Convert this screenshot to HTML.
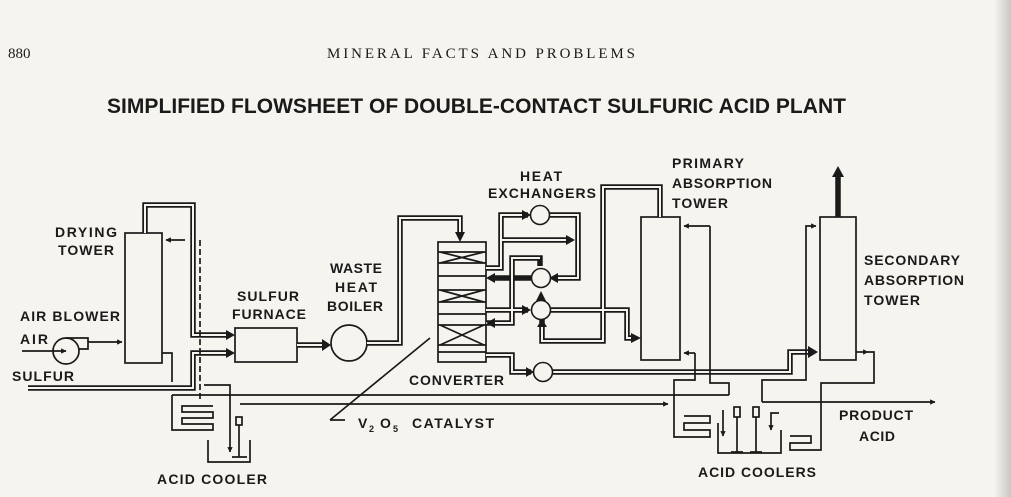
<!DOCTYPE html>
<html><head><meta charset="utf-8"><style>
html,body{margin:0;padding:0;background:#f6f4ef;}
svg{display:block}
text{font-family:"Liberation Sans",sans-serif;font-weight:bold;fill:#1a1a1a}
.s{fill:none;stroke:#1a1a1a;stroke-width:1.7}
.d1{fill:none;stroke:#1a1a1a;stroke-width:5.5}
.d2{fill:none;stroke:#f6f4ef;stroke-width:2}
</style></head><body>
<svg width="1011" height="497" viewBox="0 0 1011 497">
<defs>
<marker id="b" viewBox="0 0 10 10" refX="9" refY="5" markerWidth="3.2" markerHeight="3.2" orient="auto"><path d="M0 0L10 5L0 10z" fill="#1a1a1a"/></marker>
<linearGradient id="g" x1="0" x2="1"><stop offset="0" stop-color="#f6f4ef"/><stop offset="1" stop-color="#c9c7c2"/></linearGradient>
</defs>
<rect x="994" y="0" width="17" height="497" fill="url(#g)"/>
<text x="8" y="58" style="font-family:'Liberation Serif',serif;font-weight:normal;font-size:15px">880</text>
<text x="327" y="58" textLength="308" style="font-family:'Liberation Serif',serif;font-weight:normal;font-size:15px">MINERAL FACTS AND PROBLEMS</text>
<text x="107" y="113" textLength="739" font-size="21">SIMPLIFIED FLOWSHEET OF DOUBLE-CONTACT SULFURIC ACID PLANT</text>

<g font-size="14">
<text x="55" y="237" textLength="62">DRYING</text>
<text x="58" y="255" textLength="56">TOWER</text>
<text x="20" y="321" textLength="100">AIR BLOWER</text>
<text x="20" y="344" textLength="28">AIR</text>
<text x="12" y="381" textLength="62">SULFUR</text>
<text x="237" y="301" textLength="62">SULFUR</text>
<text x="232" y="319" textLength="74">FURNACE</text>
<text x="330" y="273" textLength="52">WASTE</text>
<text x="335" y="292" textLength="42">HEAT</text>
<text x="327" y="311" textLength="56">BOILER</text>
<text x="409" y="385" textLength="95">CONVERTER</text>
<text x="520" y="181" textLength="42">HEAT</text>
<text x="488" y="198" textLength="108">EXCHANGERS</text>
<text x="672" y="168" textLength="72">PRIMARY</text>
<text x="672" y="188" textLength="100">ABSORPTION</text>
<text x="672" y="208" textLength="56">TOWER</text>
<text x="864" y="265" textLength="96">SECONDARY</text>
<text x="864" y="285" textLength="100">ABSORPTION</text>
<text x="864" y="305" textLength="56">TOWER</text>
<text x="839" y="420" textLength="74">PRODUCT</text>
<text x="859" y="441" textLength="36">ACID</text>
<text x="157" y="484" textLength="110">ACID COOLER</text>
<text x="698" y="477" textLength="118">ACID COOLERS</text>
<text x="358" y="428">V</text><text x="369" y="432" font-size="9">2</text>
<text x="380" y="428">O</text><text x="393" y="432" font-size="9">5</text>
<text x="412" y="428" textLength="82">CATALYST</text>
</g>

<rect class="s" x="125" y="233" width="37" height="130"/>
<rect class="s" x="235" y="328" width="62" height="34"/>
<circle class="s" cx="349" cy="343" r="18"/>
<rect class="s" x="438" y="242" width="48" height="120"/>
<g class="s">
<path d="M438 252H486M438 263H486M440 252L484 263M484 252L440 263"/>
<path d="M438 276H486M438 290H486M438 302H486M440 290L484 302M484 290L440 302"/>
<path d="M438 314H486M438 325H486M438 345H486M440 325L484 345M484 325L440 345M438 352H486"/>
</g>
<rect class="s" x="641" y="217" width="39" height="143"/>
<rect class="s" x="820" y="217" width="36" height="143"/>
<circle class="s" cx="66" cy="351" r="13"/>
<path class="s" d="M66 338H88V349H79M22 351H66" marker-end="url(#b)"/>
<path class="s" d="M88 342H122" marker-end="url(#b)"/>

<g class="d1">
<path d="M145 233V205H193V335H228"/>
<path d="M28 388H193V353H228"/>
<path d="M297 345H327"/>
<path d="M367 343H400V218H460V236"/>
<path d="M486 268H501V215H528"/>
<path d="M549 215H578V278H556"/>
<path d="M501 240H570"/>
<path d="M531 278H492"/>
<path d="M486 310H528"/>
<path d="M486 323H512V258H540V266"/>
<path d="M549 310H627V338H634"/>
<path d="M542 319V341H603V187H660V217"/>
<path d="M486 355H512V372H531"/>
<path d="M552 372H790V352H810"/>
<path d="M838 217V175"/>
</g>
<g class="d2">
<path d="M145 233V205H193V335H228"/>
<path d="M28 388H193V353H228"/>
<path d="M297 345H325"/>
<path d="M367 343H400V218H460V234"/>
<path d="M486 268H501V215H526"/>
<path d="M549 215H578V278H558"/>
<path d="M501 240H568"/>
<path d="M486 310H526"/>
<path d="M486 323H512V258H540"/>
<path d="M549 310H627V338H632"/>
<path d="M542 322V341H603V187H660V217"/>
<path d="M486 355H512V372H531"/>
<path d="M552 372H790V352H808"/>
</g>
<g fill="#1a1a1a">
<path d="M226 330L235 335L226 340z"/><path d="M226 348L235 353L226 358z"/>
<path d="M322 339L331 345L322 351z"/><path d="M455 232L460 242L465 232z"/>
<path d="M522 210L531 215L522 220z"/><path d="M566 235L575 240L566 245z"/>
<path d="M558 273L549 278L558 283z"/><path d="M495 273L486 278L495 283z"/>
<path d="M522 305L531 310L522 315z"/><path d="M536 301L541 291L546 301z"/>
<path d="M495 318L486 323L495 328z"/><path d="M537 327L542 319L547 327z"/>
<path d="M631 333L641 338L631 343z"/><path d="M526 367L534 372L526 377z"/>
<path d="M808 346L818 352L808 358z"/><path d="M832 177L838 166L844 177z"/>
</g>
<circle cx="540" cy="215" r="9.5" fill="#f6f4ef" stroke="#1a1a1a" stroke-width="1.6"/>
<circle cx="541" cy="278" r="9.5" fill="#f6f4ef" stroke="#1a1a1a" stroke-width="1.6"/>
<circle cx="541" cy="310" r="9.5" fill="#f6f4ef" stroke="#1a1a1a" stroke-width="1.6"/>
<circle cx="543" cy="372" r="9.5" fill="#f6f4ef" stroke="#1a1a1a" stroke-width="1.6"/>

<line x1="172" y1="395" x2="729" y2="395" stroke="#1a1a1a" stroke-width="1.7"/>
<g class="s">
<path d="M185 240H166" marker-end="url(#b)"/>
<path d="M200 240V400" stroke-dasharray="6,3"/>
<path d="M204 385H230V452" marker-end="url(#b)"/>
<path d="M162 353H172V382"/>
<path d="M172 395V430H213V424H182V418H213V412H182V406H213"/>
<path d="M208 440V462H250V440"/>
<path d="M239 425V457M232 457H247"/><rect x="236" y="417" width="6" height="8"/>
<path d="M330 420H345M330 420L430 338"/>
</g>
<path class="s" d="M240 404H668" marker-end="url(#b)"/>
<g class="s">
<path d="M710 226H684" marker-end="url(#b)"/>
<path d="M710 226V383H729V395"/>
<path d="M695 353H684" marker-end="url(#b)"/>
<path d="M695 353V380H674V437H710V430H684V423H710V416H684"/>
<path d="M718 423V453H781V430"/>
<path d="M723 410V436" marker-end="url(#b)"/>
<path d="M737 417V452M756 417V452M731 452H743M750 452H762"/>
<rect x="734" y="407" width="6" height="10"/><rect x="753" y="407" width="6" height="10"/>
<path d="M779 413H771V430" marker-end="url(#b)"/>
<path d="M762 402H935" marker-end="url(#b)"/>
<path d="M762 402V380H806V226H816" marker-end="url(#b)"/>
<path d="M856 352H868" marker-end="url(#b)"/>
<path d="M868 352H874V383H821V450H790V443H811V436H790"/>
</g>
</svg>
</body></html>
